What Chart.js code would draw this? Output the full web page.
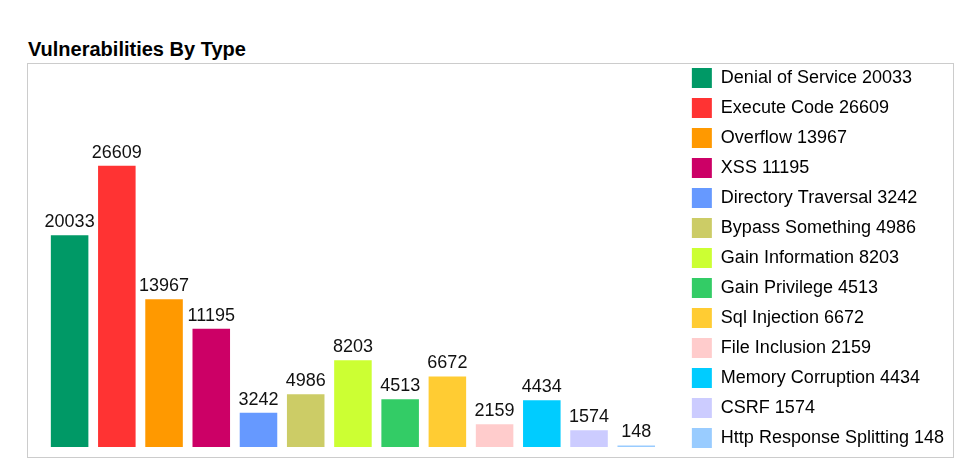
<!DOCTYPE html>
<html>
<head>
<meta charset="utf-8">
<script src="https://cdn.jsdelivr.net/npm/chart.js@4"></script>
<style>
  html, body { margin: 0; padding: 0; background: #fff; }
  #wrap { position: relative; width: 975px; height: 464px; overflow: hidden; }
  #title { position: absolute; left: 28px; top: 39px; font: bold 20px "Liberation Sans", Arial, sans-serif; line-height: 20px; color: #000; white-space: nowrap; }
  #frame { position: absolute; left: 27px; top: 63px; width: 927px; height: 395px; border: 1px solid #ccc; box-sizing: border-box; }
  #c { position: absolute; left: 0; top: 0; }
</style>
</head>
<body>
<div id="wrap">
  <div id="title">Vulnerabilities By Type</div>
  <div id="frame"></div>
  <canvas id="c" width="975" height="464"></canvas>
</div>
<script>
const categories = ["Denial of Service", "Execute Code", "Overflow", "XSS", "Directory Traversal", "Bypass Something", "Gain Information", "Gain Privilege", "Sql Injection", "File Inclusion", "Memory Corruption", "CSRF", "Http Response Splitting"];
const counts = [20033, 26609, 13967, 11195, 3242, 4986, 8203, 4513, 6672, 2159, 4434, 1574, 148];
const colors = ["#009966", "#FF3333", "#FF9900", "#CC0066", "#6699FF", "#CCCC66", "#CCFF33", "#33CC66", "#FFCC33", "#FFCCCC", "#00CCFF", "#CCCCFF", "#99CCFF"];

const FONT = "'Liberation Sans', Arial, sans-serif";

const valueLabels = {
  id: 'valueLabels',
  afterDatasetsDraw(chart) {
    const ctx = chart.ctx;
    const meta = chart.getDatasetMeta(0);
    ctx.save();
    ctx.font = "18px " + FONT;
    ctx.fillStyle = "#111";
    ctx.textAlign = "center";
    ctx.textBaseline = "alphabetic";
    meta.data.forEach((bar, i) => {
      ctx.fillText(String(counts[i]), bar.x, bar.y - 8);
    });
    ctx.restore();
  }
};

new Chart(document.getElementById('c'), {
  type: 'bar',
  data: {
    labels: categories,
    datasets: [{
      data: counts,
      backgroundColor: colors,
      borderWidth: 0,
      barPercentage: 0.795,
      categoryPercentage: 1.0
    }]
  },
  options: {
    responsive: false,
    animation: false,
    layout: { padding: { top: 58, bottom: 4, left: 46, right: 21 } },
    plugins: {
      tooltip: { enabled: false },
      title: { display: false },
      legend: {
        position: 'right',
        align: 'start',
        maxWidth: 300,
        labels: {
          boxWidth: 20,
          boxHeight: 20,
          padding: 10,
          color: '#111',
          font: { size: 18, family: FONT },
          generateLabels: () => categories.map((c, i) => ({
            text: c + ' ' + counts[i],
            fillStyle: colors[i],
            strokeStyle: colors[i],
            lineWidth: 0,
            hidden: false,
            index: i
          }))
        }
      }
    },
    scales: {
      x: {
        display: true,
        grid: { display: false, drawTicks: false },
        border: { display: false },
        ticks: { display: false },
        afterFit: (s) => { s.height = 13; }
      },
      y: {
        position: 'right',
        min: 0,
        max: 36800,
        display: true,
        grid: { display: false, drawTicks: false },
        border: { display: false },
        ticks: { display: false },
        afterFit: (s) => { s.width = 22; }
      }
    }
  },
  plugins: [valueLabels]
});
</script>
</body>
</html>
